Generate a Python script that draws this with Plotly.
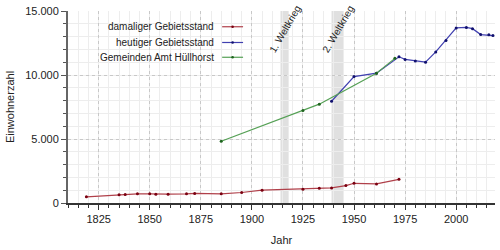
import plotly.graph_objects as go

# ---- data ----
red_years = [1819, 1835, 1838, 1844, 1850, 1853, 1859, 1868, 1872, 1885, 1895, 1905, 1925, 1933, 1939, 1946, 1950, 1961, 1972]
red_vals = [480, 640, 670, 715, 715, 690, 690, 715, 745, 715, 820, 1000, 1080, 1150, 1180, 1360, 1540, 1490, 1850]

blue_years = [1939, 1950, 1961, 1972, 1975, 1980, 1985, 1990, 1995, 2000, 2005, 2008, 2012, 2016, 2018]
blue_vals = [7950, 9880, 10140, 11420, 11220, 11100, 11000, 11800, 12700, 13680, 13720, 13620, 13160, 13140, 13080]

green_years = [1885, 1925, 1933, 1961, 1970]
green_vals = [4820, 7230, 7720, 10130, 11300]

series_names = ["damaliger Gebietsstand", "heutiger Gebietsstand", "Gemeinden Amt Hüllhorst"]
line_colors = ["#b0404a", "#4040b0", "#55a055"]
marker_colors = ["#7a0010", "#10106e", "#1e641e"]

wars = [("1. Weltkrieg", 1914, 1918), ("2. Weltkrieg", 1939, 1945)]
y_ticks = [0, 5000, 10000, 15000]
x_ticks = [1825, 1850, 1875, 1900, 1925, 1950, 1975, 2000]

FONT = "Liberation Sans, Arial, sans-serif"

fig = go.Figure()
for yrs, vals, name, lc, mc in zip([red_years, blue_years, green_years],
                                   [red_vals, blue_vals, green_vals],
                                   series_names, line_colors, marker_colors):
    fig.add_trace(go.Scatter(x=yrs, y=vals, name=name, mode="lines+markers",
                             line=dict(color=lc, width=1.2),
                             marker=dict(color=mc, size=3),
                             showlegend=False))

shapes = []
annotations = []
for label, a, b in wars:
    shapes.append(dict(type="rect", xref="x", yref="paper", x0=a, x1=b, y0=0, y1=1,
                       fillcolor="#e0e0e0", line=dict(width=0), layer="below"))
    annotations.append(dict(x=(a + b) / 2 + 0.5, y=13600, xref="x", yref="y", text=label,
                            showarrow=False, textangle=-60,
                            font=dict(family=FONT, size=10, color="#222")))

# manual legend (symbol to the right of text)
leg_y = [0.918, 0.836, 0.759]
for name, lc, mc, yy in zip(series_names, line_colors, marker_colors, leg_y):
    annotations.append(dict(x=0.347, y=yy, xref="paper", yref="paper", text=name,
                            showarrow=False, xanchor="right", yanchor="middle",
                            font=dict(family=FONT, size=10, color="#222")))
    shapes.append(dict(type="line", xref="paper", yref="paper", x0=0.361, x1=0.41,
                       y0=yy, y1=yy, line=dict(color=lc, width=1.2)))
    shapes.append(dict(type="circle", xref="paper", yref="paper",
                       x0=0.3855 - 0.003, x1=0.3855 + 0.003,
                       y0=yy - 0.0065, y1=yy + 0.0065,
                       fillcolor=mc, line=dict(width=0)))

fig.update_layout(
    width=500, height=250,
    margin=dict(l=68, r=5, t=11, b=44),
    paper_bgcolor="white", plot_bgcolor="white",
    separators=",.",
    font=dict(family=FONT, size=11, color="#222"),
    shapes=shapes, annotations=annotations,
    xaxis=dict(range=[1810, 2019], tickvals=x_ticks, ticks="outside", ticklen=5,
               tickcolor="#333", showline=True, linecolor="#333", linewidth=2,
               showgrid=True, gridcolor="#c8c8c8", griddash="dot", gridwidth=1,
               minor=dict(dtick=5, tick0=1810, ticks="outside", ticklen=3, tickcolor="#333",
                          showgrid=True, gridcolor="#ededed", gridwidth=1, griddash="solid"),
               title=dict(text="Jahr", font=dict(size=11), standoff=12),
               zeroline=False, tickfont=dict(size=11)),
    yaxis=dict(range=[0, 15000], tickvals=y_ticks, tickformat=",d", ticks="outside",
               ticklen=5, tickcolor="#555", showline=True, linecolor="#666", linewidth=2,
               showgrid=True, gridcolor="#c8c8c8", griddash="dot", gridwidth=1,
               minor=dict(dtick=1000, ticks="outside", ticklen=3, tickcolor="#555",
                          showgrid=True, gridcolor="#ededed", gridwidth=1, griddash="solid"),
               title=dict(text="Einwohnerzahl", font=dict(size=11), standoff=8),
               zeroline=False, tickfont=dict(size=11)),
)

fig.write_html("out.html")
